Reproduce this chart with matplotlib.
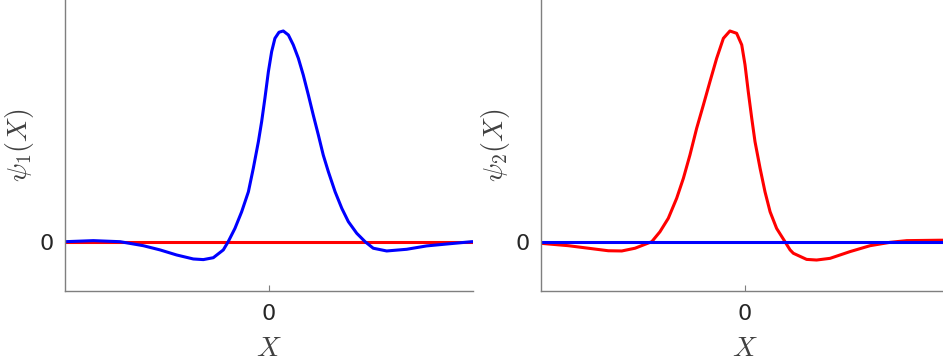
import matplotlib
matplotlib.use("Agg")
import matplotlib.pyplot as plt

plt.rcParams["mathtext.fontset"] = "cm"

# Left panel: psi_1(X) (peak normalised to 1)
x1 = [-10.0, -8.61, -7.30, -6.16, -5.34, -4.53, -3.71, -3.22, -2.73, -2.24,
      -2.00, -1.67, -1.34, -1.01, -0.77, -0.52, -0.36, -0.20, -0.03, 0.13,
      0.29, 0.49, 0.70, 0.95, 1.19, 1.44, 1.68, 1.93, 2.17, 2.42,
      2.66, 2.91, 3.24, 3.57, 3.89, 4.30, 4.71, 5.11, 5.77, 6.75,
      7.73, 8.71, 9.94, 10.0]
psi1 = [0.0, 0.005, 0.0, -0.019, -0.039, -0.063, -0.082, -0.085, -0.076, -0.039,
        0.0, 0.063, 0.142, 0.237, 0.348, 0.475, 0.570, 0.681, 0.807, 0.902,
        0.965, 0.994, 1.0, 0.981, 0.934, 0.870, 0.791, 0.696, 0.601, 0.506,
        0.411, 0.332, 0.237, 0.158, 0.095, 0.040, 0.0, -0.031, -0.044, -0.036,
        -0.020, -0.011, 0.0, 0.0]

# Right panel: psi_2(X)
x2 = [-9.97, -8.66, -7.68, -6.70, -6.04, -5.39, -4.57, -4.17, -3.76, -3.35,
      -3.02, -2.70, -2.37, -2.04, -1.72, -1.39, -1.06, -0.74, -0.41, -0.16,
      0.0, 0.16, 0.33, 0.49, 0.74, 0.98, 1.23, 1.55, 1.96, 2.21,
      2.37, 3.02, 3.51, 4.17, 5.15, 6.13, 7.11, 7.93, 9.56, 10.0]
psi2 = [-0.008, -0.019, -0.031, -0.043, -0.044, -0.031, 0.0, 0.047, 0.111, 0.206,
        0.301, 0.411, 0.538, 0.649, 0.759, 0.870, 0.965, 1.0, 0.989, 0.934,
        0.840, 0.712, 0.586, 0.475, 0.348, 0.237, 0.142, 0.063, 0.0, -0.039,
        -0.055, -0.084, -0.087, -0.079, -0.047, -0.019, -0.003, 0.005, 0.007, 0.007]

x_range = [-10, 10]
zero_line = [0, 0]

W, H = 943, 364
fig = plt.figure(figsize=(W / 100, H / 100), dpi=100)

ax_left = fig.add_axes([65 / W, (H - 291) / H, 408 / W, 291 / H])
ax_right = fig.add_axes([541 / W, (H - 291) / H, 408 / W, 291 / H])

lw = 2.2
ax_left.plot(x_range, zero_line, color="red", lw=lw)
ax_left.plot(x1, psi1, color="blue", lw=lw)
ax_right.plot(x2, psi2, color="red", lw=lw)
ax_right.plot(x_range, zero_line, color="blue", lw=lw)

labels = [r"$\psi_1(X)$", r"$\psi_2(X)$"]
for ax, lab in zip([ax_left, ax_right], labels):
    ax.set_xlim(-10, 10)
    ax.set_ylim(-0.234, 1.147)
    ax.set_xticks([0])
    ax.set_yticks([0])
    ax.tick_params(direction="in", length=4, width=0.8, colors="#7f7f7f",
                   labelcolor="#262626", labelsize=16, pad=9)
    ax.tick_params(axis="y", length=0, pad=8)
    for side in ["top", "right"]:
        ax.spines[side].set_visible(False)
    for side in ["left", "bottom"]:
        ax.spines[side].set_color("#7f7f7f")
        ax.spines[side].set_linewidth(1.0)
    ax.set_xlabel(r"$X$", fontsize=20, color="#404040")
    ax.set_ylabel(lab, fontsize=20, color="#404040")
    ax.xaxis.set_label_coords(0.5, -0.148)
    ax.yaxis.set_label_coords(-0.071, 0.5)

fig.savefig("out.png", dpi=100)
